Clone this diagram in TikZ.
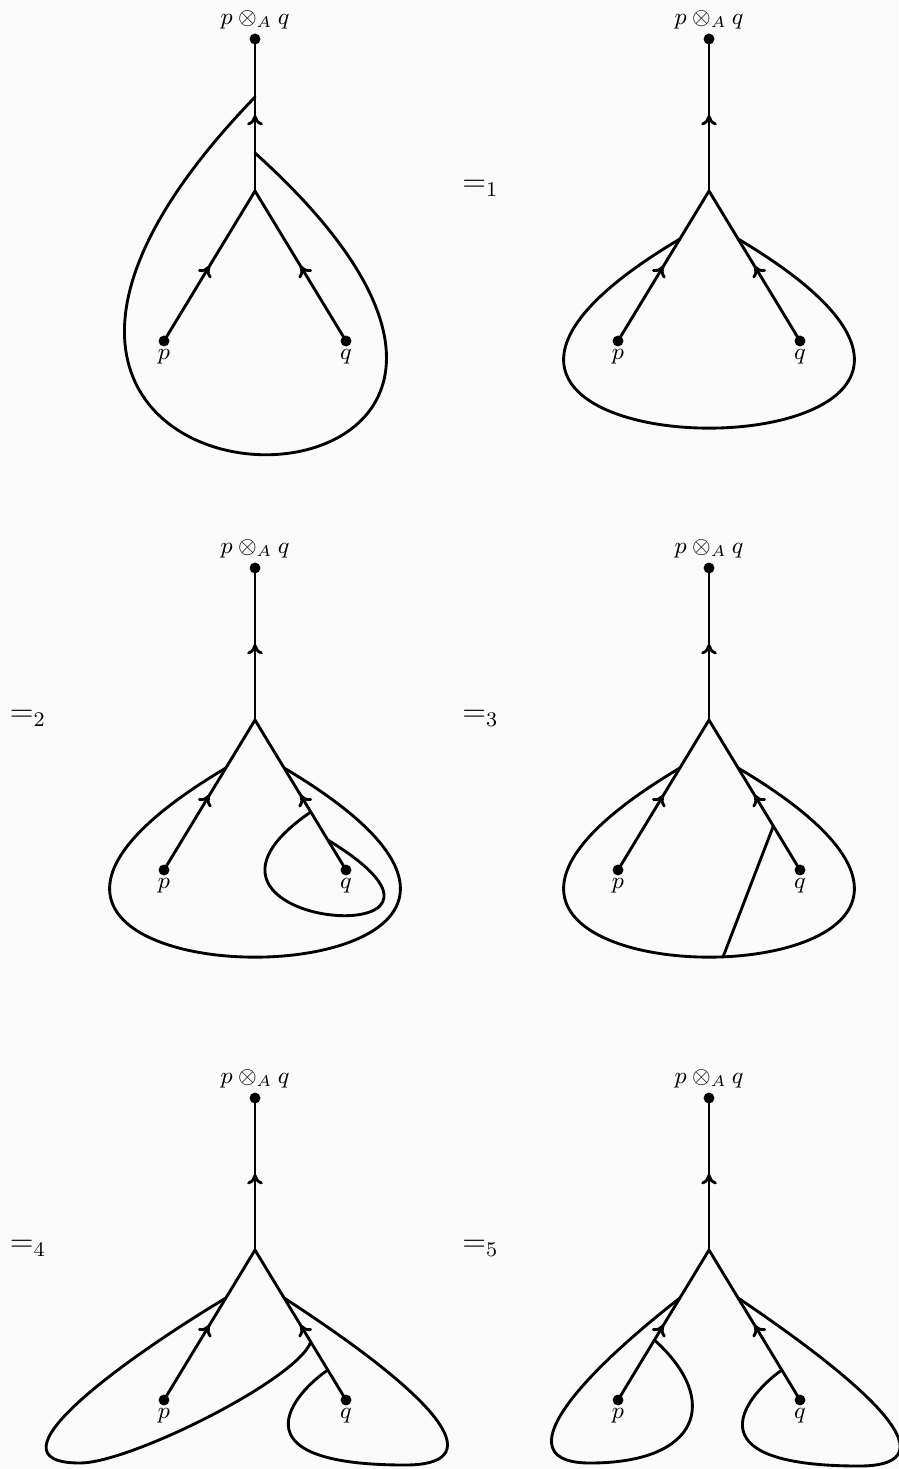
\documentclass[tikz,border=0pt]{standalone}
\usetikzlibrary{calc,decorations.markings,arrows.meta}
\definecolor{bgcol}{RGB}{250,250,250}
\newcommand\mytree[1]{%
  \coordinate (j#1) at (0,0);
  \node[dot] (t#1) at (0,152) {};
  \node[dot] (p#1) at (-91,-150) {};
  \node[dot] (q#1) at (91,-150) {};
  \node[lbl] (tl#1) at (0,171) {$p\otimes_A q$};
  \node[lbl] (pl#1) at (-91,-166) {$p$};
  \node[lbl] (ql#1) at (91,-166) {$q$};
  \draw[wire,midarrow] (j#1) -- (t#1.center);
  \draw[wire,midarrow] (p#1.center) -- (j#1);
  \draw[wire,midarrow] (q#1.center) -- (j#1);
}
\begin{document}
\begin{tikzpicture}[x=0.3846pt,y=0.3846pt,
  wire/.style={line width=1.1pt,line cap=round,line join=round},
  midarrow/.style={postaction={decorate},decoration={markings,mark=at position 0.5 with {\arrow{To[length=4pt,width=6pt]}}}},
  dot/.style={circle,fill=black,inner sep=0pt,minimum size=4.2pt},
  lbl/.style={font=\fontsize{8.7}{10}\selectfont},
  eqlbl/.style={anchor=base,font=\fontsize{11.5}{14}\selectfont}
]
\fill[bgcol] (0,0) rectangle (898,-1469);
\useasboundingbox (0,0) rectangle (898,-1469);

% panel 1
\begin{scope}[shift={(255,-191)}]
\mytree{1}
\coordinate (a1) at ($(j1)!0.618!(t1)$);
\coordinate (e1) at ($(j1)!0.25!(t1)$);
\draw[wire] (a1) .. controls +(226:652) and +(-42:612) .. (e1);
\end{scope}

% panel 2
\begin{scope}[shift={(709,-191)}]
\mytree{2}
\coordinate (a2) at ($(j2)!0.32!(p2)$);
\coordinate (e2) at ($(j2)!0.32!(q2)$);
\draw[wire] (a2) .. controls +(210.7:494) and +(-30.7:494) .. (e2);
\end{scope}

% panel 3
\begin{scope}[shift={(255,-720)}]
\mytree{3}
\coordinate (a3) at ($(j3)!0.32!(p3)$);
\coordinate (e3) at ($(j3)!0.32!(q3)$);
\draw[wire] (a3) .. controls +(210.7:494) and +(-30.7:494) .. (e3);
\coordinate (s3) at ($(j3)!0.613!(q3)$);
\coordinate (f3) at ($(j3)!0.8!(q3)$);
\draw[wire] (s3) .. controls +(214.4:209) and +(-31.3:227) .. (f3);
\end{scope}

% panel 4
\begin{scope}[shift={(709,-720)}]
\mytree{4}
\coordinate (a4) at ($(j4)!0.32!(p4)$);
\coordinate (e4) at ($(j4)!0.32!(q4)$);
\draw[wire] (a4) .. controls +(210.7:494) and +(-30.7:494) .. (e4);
\coordinate (c4) at ($(j4)!0.707!(q4)$);
\coordinate (d4) at (14,-237);
\draw[wire] (c4) -- (d4);
\end{scope}

% panel 5
\begin{scope}[shift={(255,-1250)}]
\mytree{5}
\coordinate (a5) at ($(j5)!0.32!(p5)$);
\coordinate (e5) at ($(j5)!0.613!(q5)$);
\coordinate (b5) at (-175,-213);
\draw[wire] (a5) .. controls +(211:120) and +(180:100) .. (b5) .. controls +(0:50) and +(250:40) .. (e5);
\coordinate (s5) at ($(j5)!0.32!(q5)$);
\coordinate (f5) at ($(j5)!0.8!(q5)$);
\coordinate (u5) at (150,-215);
\draw[wire] (s5) .. controls +(-33:205) and +(0:80) .. (u5) .. controls +(180:175) and +(214:40) .. (f5);
\end{scope}

% panel 6
\begin{scope}[shift={(709,-1250)}]
\mytree{6}
\coordinate (a6) at ($(j6)!0.32!(p6)$);
\coordinate (e6) at ($(j6)!0.6!(p6)$);
\coordinate (b6) at (-119,-213);
\draw[wire] (a6) .. controls +(218:150) and +(180:80) .. (b6) .. controls +(0:110) and +(-42:90) .. (e6);
\coordinate (s6) at ($(j6)!0.32!(q6)$);
\coordinate (f6) at ($(j6)!0.8!(q6)$);
\coordinate (u6) at (150,-216);
\draw[wire] (s6) .. controls +(-34:200) and +(0:80) .. (u6) .. controls +(180:175) and +(215:40) .. (f6);
\end{scope}

\node[eqlbl] (eq1) at (480.5,-191.5) {$=_1$};
\node[eqlbl] (eq2) at (28,-721.5) {$=_2$};
\node[eqlbl] (eq3) at (480.5,-721.5) {$=_3$};
\node[eqlbl] (eq4) at (28,-1251.5) {$=_4$};
\node[eqlbl] (eq5) at (480.5,-1251.5) {$=_5$};
\end{tikzpicture}
\end{document}
